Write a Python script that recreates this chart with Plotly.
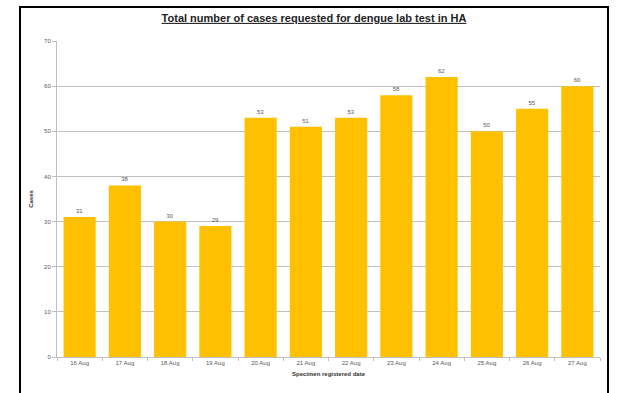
import plotly.graph_objects as go

dates = ["16 Aug", "17 Aug", "18 Aug", "19 Aug", "20 Aug", "21 Aug",
         "22 Aug", "23 Aug", "24 Aug", "25 Aug", "26 Aug", "27 Aug"]
cases = [31, 38, 30, 29, 53, 51, 53, 58, 62, 50, 55, 60]
y_ticks = [0, 10, 20, 30, 40, 50, 60, 70]

W, H = 619, 393
L, R, T, B = 57, 19, 41, 36
pw, ph = W - L - R, H - T - B

def px(x):
    return (x - L) / pw

def py(y):
    return (H - B - y) / ph

fig = go.Figure(go.Bar(
    x=dates, y=cases,
    marker=dict(color="#FFC000", line=dict(width=0)),
    text=[str(v) for v in cases], textposition="outside",
    textfont=dict(size=6, color="#595959", family="Liberation Sans"),
    cliponaxis=False,
))

fig.update_layout(
    width=W, height=H,
    margin=dict(l=L, r=R, t=T, b=B),
    paper_bgcolor="white", plot_bgcolor="white",
    bargap=0.29,
    showlegend=False,
    title=dict(text="<u><b>Total number of cases requested for dengue lab test in HA</b></u>",
               x=px(314), xref="paper", xanchor="center",
               y=1 - 18 / H, yanchor="middle",
               font=dict(size=11, color="#222222", family="Liberation Sans")),
    font=dict(family="Liberation Sans", size=6, color="#595959"),
    xaxis=dict(
        title=dict(text="<b>Specimen registered date</b>", standoff=6,
                   font=dict(size=6, color="#333333")),
        showline=True, linecolor="#BFBFBF", linewidth=1,
        ticks="outside", tickson="boundaries", ticklen=3, tickcolor="#BFBFBF",
        tickfont=dict(size=6, color="#595959"),
    ),
    yaxis=dict(
        title=dict(text="<b>Cases</b>", standoff=10,
                   font=dict(size=6, color="#333333")),
        range=[0, 70], tickvals=y_ticks,
        showgrid=True, gridcolor="#C0C0C0", gridwidth=1,
        showline=True, linecolor="#BFBFBF", linewidth=1,
        ticks="outside", ticklen=4, tickcolor="#BFBFBF",
        tickfont=dict(size=6, color="#595959"),
        zeroline=False,
    ),
    shapes=[dict(type="rect", xref="paper", yref="paper",
                 x0=px(20), x1=px(608), y0=py(7), y1=py(400),
                 line=dict(color="black", width=2), fillcolor="rgba(0,0,0,0)",
                 layer="above")],
)

fig.write_html("out.html")
